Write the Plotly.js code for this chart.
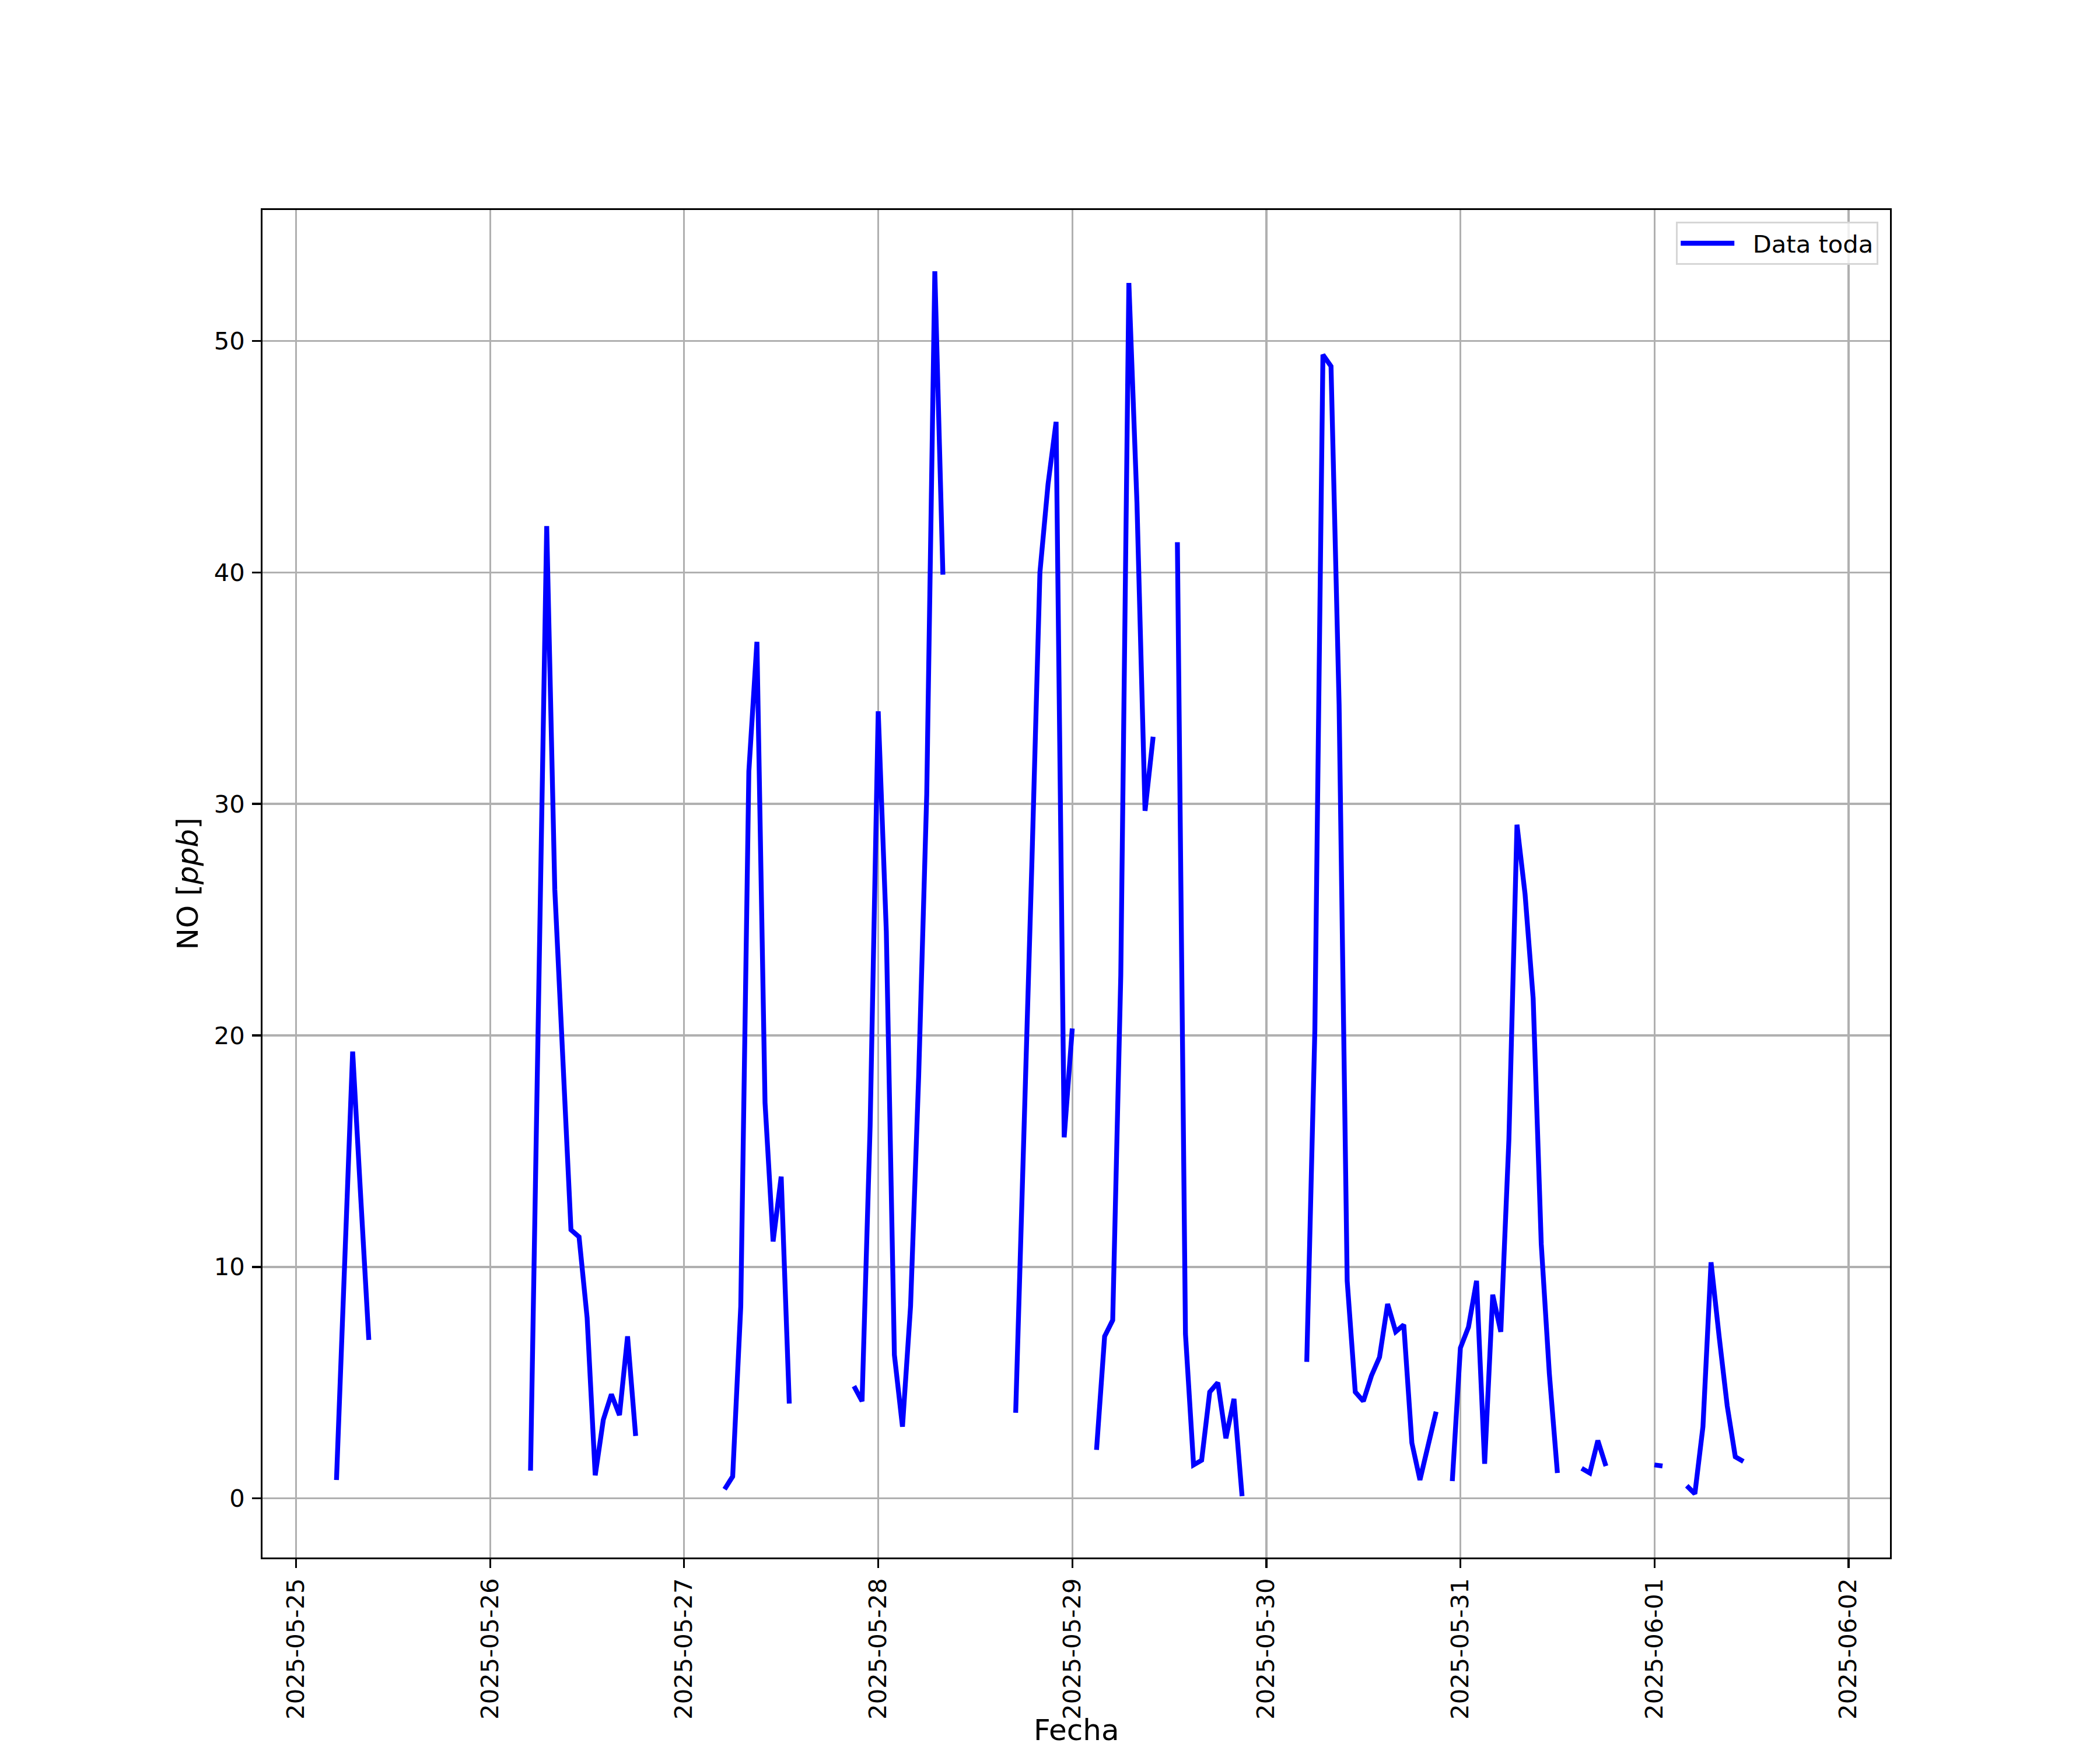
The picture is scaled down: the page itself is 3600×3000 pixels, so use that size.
<!DOCTYPE html>
<html>
<head>
<meta charset="utf-8">
<script src="https://cdn.plot.ly/plotly-3.0.1.min.js"></script>
<style>
  html, body { margin: 0; padding: 0; background: #ffffff; }
  #chart { width: 3600px; height: 3000px; }
</style>
</head>
<body>
<div id="chart"></div>
<script>
// Hourly NO readings (ppb) starting at this timestamp; null = missing hour
const startTime = '2025-05-25T05:00:00Z';
const noValues = [
  0.8, 10.5, 19.3, 13.0, 6.85,
  null, null, null, null, null, null, null, null, null, null,
  null, null, null, null, null, null, null, null, null,
  1.2, 21.0, 42.0, 26.3, 19.0, 11.6, 11.3, 7.8, 1.0, 3.4, 4.5, 3.6, 7.0, 2.7,
  null, null, null, null, null, null, null, null, null, null,
  0.4, 0.95, 8.3, 31.4, 37.0, 17.1, 11.1, 13.9, 4.1,
  null, null, null, null, null, null, null,
  4.85, 4.2, 16.1, 34.0, 24.5, 6.2, 3.1, 8.3, 18.2, 30.4, 53.0, 39.9,
  null, null, null, null, null, null, null, null,
  3.7, 15.1, 27.4, 40.0, 43.8, 46.5, 15.6, 20.3,
  null, null,
  2.1, 7.0, 7.7, 22.6, 52.5, 43.0, 29.7, 32.9,
  null, null,
  41.3, 7.1, 1.45, 1.65, 4.6, 5.0, 2.6, 4.3, 0.1,
  null, null, null, null, null, null, null,
  5.9, 20.2, 49.4, 48.9, 34.3, 9.4, 4.6, 4.2, 5.3, 6.1, 8.4, 7.2, 7.5, 2.4, 0.8, 2.3, 3.75,
  null,
  0.75, 6.5, 7.4, 9.4, 1.5, 8.8, 7.2, 15.5, 29.1, 26.1, 21.6, 11.0, 5.4, 1.1,
  null, null,
  1.3, 1.1, 2.5, 1.4,
  null, null, null, null, null,
  1.45, 1.4,
  null, null,
  0.55, 0.2, 3.1, 10.2, 7.0, 4.0, 1.8, 1.6
];
const seriesName = 'Data toda';
const xTitle = 'Fecha';
const yTitle = 'NO [<i>ppb</i>]';
const yTicks = [0, 10, 20, 30, 40, 50];

const t0 = Date.parse(startTime);
const times = noValues.map((v, i) => {
  const d = new Date(t0 + i * 3600000);
  return d.toISOString().slice(0, 19).replace('T', ' ');
});

const FONT = 'DejaVu Sans, Liberation Sans, sans-serif';

const trace = {
  x: times,
  y: noValues,
  type: 'scatter',
  mode: 'lines',
  name: '\u00a0\u00a0' + seriesName,
  connectgaps: false,
  line: { color: '#0000ff', width: 8.3 },
  showlegend: true
};

const layout = {
  width: 3600,
  height: 3000,
  margin: { l: 450, r: 360, t: 360, b: 330, pad: 0 },
  paper_bgcolor: '#ffffff',
  plot_bgcolor: '#ffffff',
  font: { family: FONT, color: '#000000', size: 41.7 },
  showlegend: true,
  xaxis: {
    type: 'date',
    range: ['2025-05-24 19:51', '2025-06-02 05:08'],
    tickmode: 'linear',
    tick0: '2025-05-25',
    dtick: 86400000,
    tickformat: '%Y-%m-%d',
    tickangle: -90,
    tickfont: { family: FONT, size: 41.7, color: '#000000' },
    ticks: 'outside',
    ticklen: 14.6,
    tickwidth: 3.3,
    tickcolor: '#000000',
    ticklabelstandoff: 1,
    showgrid: true,
    gridcolor: '#b0b0b0',
    gridwidth: 3.3,
    zeroline: false,
    showline: true,
    linecolor: '#000000',
    linewidth: 3.3,
    mirror: true,
    automargin: false
  },
  yaxis: {
    range: [-2.55, 55.65],
    tickmode: 'array',
    tickvals: yTicks,
    ticktext: yTicks.map(String),
    tickfont: { family: FONT, size: 41.7, color: '#000000' },
    ticks: 'outside',
    ticklen: 14.6,
    tickwidth: 3.3,
    tickcolor: '#000000',
    ticklabelstandoff: 4,
    showgrid: true,
    gridcolor: '#b0b0b0',
    gridwidth: 3.3,
    zeroline: false,
    showline: true,
    linecolor: '#000000',
    linewidth: 3.3,
    mirror: true,
    automargin: false,
    title: { text: yTitle, font: { family: FONT, size: 50, color: '#000000' }, standoff: 12 }
  },
  annotations: [{
    text: xTitle,
    xref: 'paper', yref: 'paper',
    x: 0.5, y: -0.1412,
    xanchor: 'center', yanchor: 'bottom',
    borderpad: 0,
    showarrow: false,
    font: { family: FONT, size: 50, color: '#000000' }
  }],
  legend: {
    x: 0.9928,
    y: 0.9913,
    xanchor: 'right',
    yanchor: 'top',
    bgcolor: 'rgba(255,255,255,0.8)',
    bordercolor: '#d6d6d6',
    borderwidth: 3.3,
    font: { family: FONT, size: 41.7, color: '#000000' },
    itemwidth: 92
  }
};

Plotly.newPlot('chart', [trace], layout, { staticPlot: true, displayModeBar: false });
</script>
</body>
</html>
